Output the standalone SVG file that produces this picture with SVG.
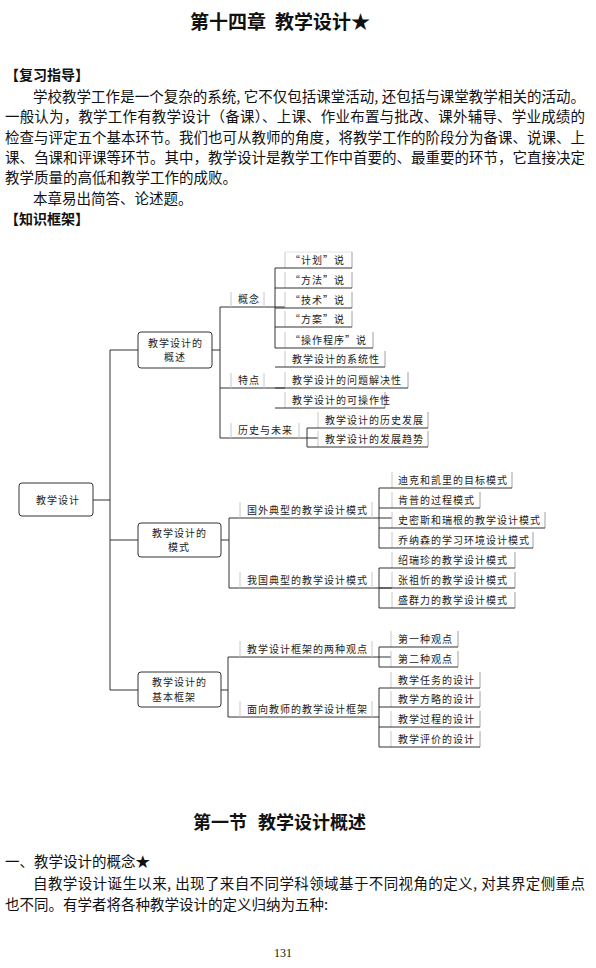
<svg xmlns="http://www.w3.org/2000/svg" width="596" height="968" viewBox="0 0 596 968">
<style>
.t{font-family:"Noto Sans CJK SC","Noto Sans",sans-serif;fill:#111}
.h{font-size:19px;font-weight:bold}
.hb{font-size:14px;font-weight:bold}
.p{font-size:14.5px}
.n{font-family:"Noto Sans CJK SC",sans-serif;font-size:10px;letter-spacing:1px;fill:#222}
.box{fill:#fff;stroke:#333;stroke-width:1}
.c{stroke:#333;stroke-width:1;fill:none}
.lt{stroke:#c8c8c8;stroke-width:1}
.rt{stroke:#a0a0a0;stroke-width:1}
.tp{stroke:#e4e4e4;stroke-width:1}
.pg{font-family:"Liberation Serif",serif;font-size:12px;fill:#111}
</style>
<rect width="596" height="968" fill="#fff"/>
<text class="t h" y="29"><tspan x="190">第十四章</tspan><tspan x="275">教学设计★</tspan></text>
<text class="t hb" x="5" y="80">【复习指导】</text>
<text class="t p" x="33" y="102" textLength="552" lengthAdjust="spacing">学校教学工作是一个复杂的系统, 它不仅包括课堂活动, 还包括与课堂教学相关的活动。</text>
<text class="t p" x="5" y="122" textLength="580" lengthAdjust="spacing">一般认为，教学工作有教学设计（备课）、上课、作业布置与批改、课外辅导、学业成绩的</text>
<text class="t p" x="5" y="143" textLength="580" lengthAdjust="spacing">检查与评定五个基本环节。我们也可从教师的角度，将教学工作的阶段分为备课、说课、上</text>
<text class="t p" x="5" y="163" textLength="580" lengthAdjust="spacing">课、刍课和评课等环节。其中，教学设计是教学工作中首要的、最重要的环节，它直接决定</text>
<text class="t p" x="5" y="183">教学质量的高低和教学工作的成败。</text>
<text class="t p" x="33" y="204">本章易出简答、论述题。</text>
<text class="t hb" x="5" y="224">【知识框架】</text>

<g id="connectors">
<path class="c" d="M93,500H110M110,350V690M110,350H138M110,540H138M110,690H138"/>
<path class="c" d="M212,350H220M220,307V438M220,307H285M220,388H285M220,438H318"/>
<path class="c" d="M275,268V348M307,428V447"/>
<path class="c" d="M221,540H229M229,518V588M229,518H392M229,588H392"/>
<path class="c" d="M379,488V548M379,568V608"/>
<path class="c" d="M221,690H228M228,657V717M228,657H391M228,717H379"/>
<path class="c" d="M379,647V667M379,688V747"/>
</g>

<g id="root"><rect class="box" x="19" y="483" width="74" height="33" rx="3"/><text class="n" x="36" y="504">教学设计</text></g>
<g id="overview"><rect class="box" x="138" y="332" width="74" height="36" rx="3"/><text class="n" x="148" y="347">教学设计的</text><text class="n" x="164" y="361">概述</text></g>
<g id="modes"><rect class="box" x="138" y="523" width="83" height="34" rx="3"/><text class="n" x="152" y="537">教学设计的</text><text class="n" x="168" y="551">模式</text></g>
<g id="framework"><rect class="box" x="138" y="672" width="83" height="35" rx="3"/><text class="n" x="152" y="686">教学设计的</text><text class="n" x="152" y="701">基本框架</text></g>

<g id="concept"><line class="lt" x1="231" y1="292" x2="231" y2="307"/><line class="lt" x1="264" y1="292" x2="264" y2="307"/><text class="n" x="238" y="303">概念</text></g>
<g id="feature"><line class="lt" x1="231" y1="373" x2="231" y2="388"/><line class="lt" x1="264" y1="373" x2="264" y2="388"/><text class="n" x="238" y="384">特点</text></g>
<g id="history"><line class="lt" x1="231" y1="423" x2="231" y2="438"/><line class="lt" x1="299" y1="423" x2="299" y2="438"/><text class="n" x="238" y="434">历史与未来</text></g>
<g id="foreign"><line class="lt" x1="240" y1="502" x2="240" y2="518"/><line class="lt" x1="372" y1="502" x2="372" y2="518"/><text class="n" x="247" y="514">国外典型的教学设计模式</text></g>
<g id="domestic"><line class="lt" x1="240" y1="572" x2="240" y2="588"/><line class="lt" x1="372" y1="572" x2="372" y2="588"/><text class="n" x="247" y="584">我国典型的教学设计模式</text></g>
<g id="twoviews"><line class="lt" x1="240" y1="641" x2="240" y2="657"/><line class="lt" x1="372" y1="641" x2="372" y2="657"/><text class="n" x="247" y="653">教学设计框架的两种观点</text></g>
<g id="teacher"><line class="lt" x1="240" y1="701" x2="240" y2="717"/><line class="lt" x1="372" y1="701" x2="372" y2="717"/><text class="n" x="247" y="713">面向教师的教学设计框架</text></g>

<g id="l1"><line class="tp" x1="285" y1="252" x2="352" y2="252"/><line class="lt" x1="285" y1="252" x2="285" y2="268"/><line class="rt" x1="352" y1="252" x2="352" y2="268"/><line class="c" x1="275" y1="268" x2="352" y2="268"/><text class="n" x="290" y="264">“计划”说</text></g>
<g id="l2"><line class="lt" x1="285" y1="272" x2="285" y2="288"/><line class="rt" x1="352" y1="272" x2="352" y2="288"/><line class="c" x1="275" y1="288" x2="352" y2="288"/><text class="n" x="290" y="284">“方法”说</text></g>
<g id="l3"><line class="lt" x1="285" y1="292" x2="285" y2="308"/><line class="rt" x1="352" y1="292" x2="352" y2="308"/><line class="c" x1="275" y1="308" x2="352" y2="308"/><text class="n" x="290" y="304">“技术”说</text></g>
<g id="l4"><line class="lt" x1="285" y1="311" x2="285" y2="327"/><line class="rt" x1="352" y1="311" x2="352" y2="327"/><line class="c" x1="275" y1="327" x2="352" y2="327"/><text class="n" x="290" y="323">“方案”说</text></g>
<g id="l5"><line class="lt" x1="285" y1="332" x2="285" y2="348"/><line class="rt" x1="373" y1="332" x2="373" y2="348"/><line class="c" x1="275" y1="348" x2="373" y2="348"/><text class="n" x="290" y="344">“操作程序”说</text></g>
<g id="l6"><line class="lt" x1="285" y1="351" x2="285" y2="367"/><line class="rt" x1="385" y1="351" x2="385" y2="367"/><line class="c" x1="275" y1="367" x2="385" y2="367"/><text class="n" x="292" y="363">教学设计的系统性</text></g>
<g id="l7"><line class="lt" x1="285" y1="372" x2="285" y2="388"/><line class="rt" x1="408" y1="372" x2="408" y2="388"/><line class="c" x1="275" y1="388" x2="408" y2="388"/><text class="n" x="292" y="384">教学设计的问题解决性</text></g>
<g id="l8"><line class="lt" x1="285" y1="392" x2="285" y2="408"/><line class="rt" x1="385" y1="392" x2="385" y2="408"/><line class="c" x1="275" y1="408" x2="385" y2="408"/><text class="n" x="292" y="404">教学设计的可操作性</text></g>
<g id="l9"><line class="lt" x1="318" y1="412" x2="318" y2="428"/><line class="rt" x1="428" y1="412" x2="428" y2="428"/><line class="c" x1="307" y1="428" x2="428" y2="428"/><text class="n" x="325" y="424">教学设计的历史发展</text></g>
<g id="l10"><line class="lt" x1="318" y1="431" x2="318" y2="447"/><line class="rt" x1="428" y1="431" x2="428" y2="447"/><line class="c" x1="307" y1="447" x2="428" y2="447"/><text class="n" x="325" y="443">教学设计的发展趋势</text></g>
<g id="l11"><line class="lt" x1="392" y1="472" x2="392" y2="488"/><line class="rt" x1="512" y1="472" x2="512" y2="488"/><line class="c" x1="379" y1="488" x2="512" y2="488"/><text class="n" x="398" y="484">迪克和凯里的目标模式</text></g>
<g id="l12"><line class="lt" x1="392" y1="492" x2="392" y2="508"/><line class="rt" x1="480" y1="492" x2="480" y2="508"/><line class="c" x1="379" y1="508" x2="480" y2="508"/><text class="n" x="398" y="504">肯普的过程模式</text></g>
<g id="l13"><line class="lt" x1="392" y1="512" x2="392" y2="528"/><line class="rt" x1="545" y1="512" x2="545" y2="528"/><line class="c" x1="379" y1="528" x2="545" y2="528"/><text class="n" x="398" y="524">史密斯和瑞根的教学设计模式</text></g>
<g id="l14"><line class="lt" x1="392" y1="532" x2="392" y2="548"/><line class="rt" x1="533" y1="532" x2="533" y2="548"/><line class="c" x1="379" y1="548" x2="533" y2="548"/><text class="n" x="398" y="544">乔纳森的学习环境设计模式</text></g>
<g id="l15"><line class="lt" x1="392" y1="552" x2="392" y2="568"/><line class="rt" x1="515" y1="552" x2="515" y2="568"/><line class="c" x1="379" y1="568" x2="515" y2="568"/><text class="n" x="398" y="564">绍瑞珍的教学设计模式</text></g>
<g id="l16"><line class="lt" x1="392" y1="572" x2="392" y2="588"/><line class="rt" x1="515" y1="572" x2="515" y2="588"/><line class="c" x1="379" y1="588" x2="515" y2="588"/><text class="n" x="398" y="584">张祖忻的教学设计模式</text></g>
<g id="l17"><line class="lt" x1="392" y1="592" x2="392" y2="608"/><line class="rt" x1="515" y1="592" x2="515" y2="608"/><line class="c" x1="379" y1="608" x2="515" y2="608"/><text class="n" x="398" y="604">盛群力的教学设计模式</text></g>
<g id="l18"><line class="lt" x1="391" y1="631" x2="391" y2="647"/><line class="rt" x1="458" y1="631" x2="458" y2="647"/><line class="c" x1="379" y1="647" x2="458" y2="647"/><text class="n" x="398" y="643">第一种观点</text></g>
<g id="l19"><line class="lt" x1="391" y1="651" x2="391" y2="667"/><line class="rt" x1="458" y1="651" x2="458" y2="667"/><line class="c" x1="379" y1="667" x2="458" y2="667"/><text class="n" x="398" y="663">第二种观点</text></g>
<g id="l20"><line class="lt" x1="391" y1="672" x2="391" y2="688"/><line class="rt" x1="480" y1="672" x2="480" y2="688"/><line class="c" x1="379" y1="688" x2="480" y2="688"/><text class="n" x="398" y="684">教学任务的设计</text></g>
<g id="l21"><line class="lt" x1="391" y1="691" x2="391" y2="707"/><line class="rt" x1="480" y1="691" x2="480" y2="707"/><line class="c" x1="379" y1="707" x2="480" y2="707"/><text class="n" x="398" y="703">教学方略的设计</text></g>
<g id="l22"><line class="lt" x1="391" y1="711" x2="391" y2="727"/><line class="rt" x1="480" y1="711" x2="480" y2="727"/><line class="c" x1="379" y1="727" x2="480" y2="727"/><text class="n" x="398" y="723">教学过程的设计</text></g>
<g id="l23"><line class="lt" x1="391" y1="731" x2="391" y2="747"/><line class="rt" x1="480" y1="731" x2="480" y2="747"/><line class="c" x1="379" y1="747" x2="480" y2="747"/><text class="n" x="398" y="743">教学评价的设计</text></g>

<text class="t h" y="829" style="font-size:18px"><tspan x="193">第一节</tspan><tspan x="258">教学设计概述</tspan></text>
<text class="t p" x="5" y="867">一、教学设计的概念★</text>
<text class="t p" x="33" y="889" textLength="552" lengthAdjust="spacing">自教学设计诞生以来, 出现了来自不同学科领域基于不同视角的定义, 对其界定侧重点</text>
<text class="t p" x="5" y="910">也不同。有学者将各种教学设计的定义归纳为五种:</text>
<text class="pg" x="283" y="957" text-anchor="middle">131</text>
</svg>
